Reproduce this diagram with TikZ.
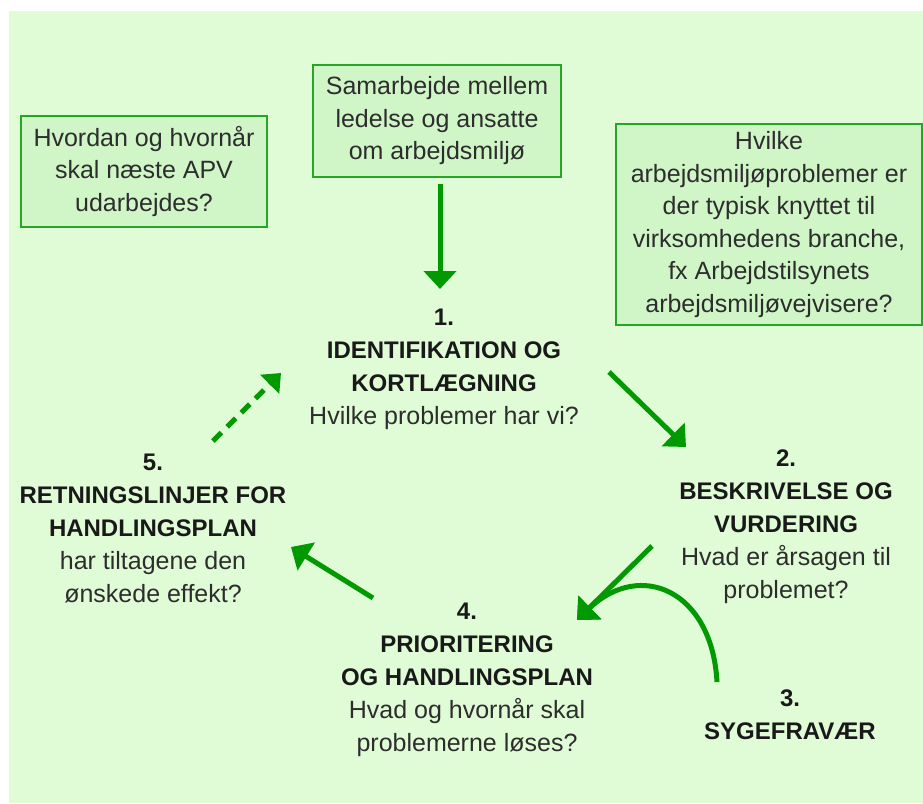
\documentclass[tikz,border=0pt]{standalone}
\usepackage{fontspec}
\setmainfont{Liberation Sans}
\usetikzlibrary{arrows.meta}
\definecolor{bggreen}{RGB}{224,252,214}
\definecolor{boxfill}{RGB}{208,246,200}
\definecolor{boxline}{RGB}{40,165,40}
\definecolor{arrowgreen}{RGB}{0,153,0}
\definecolor{txtgray}{RGB}{45,45,45}
\newcommand{\stagehead}[1]{{\fontsize{24}{33}\selectfont\bfseries\color{black!90}#1}}
\tikzset{
    infobox/.style={draw=boxline, line width=1.5pt, fill=boxfill, align=center, inner sep=0pt, text=txtgray, font=\fontsize{25}{32.5}\selectfont},
    stage/.style={align=center, inner sep=0pt, text=txtgray, font=\fontsize{25}{33}\selectfont},
    flow/.style={draw=arrowgreen, line width=5pt, -{Triangle[width=32pt,length=18pt]}},
    dashflow/.style={flow, dash pattern=on 12pt off 8pt, -{Triangle[width=26pt,length=16pt]}}
}
\begin{document}
\begin{tikzpicture}[x=1pt,y=-1pt]
    \useasboundingbox (0,0) rectangle (923,803);
    \fill[white] (0,0) rectangle (923,803);
    \fill[bggreen] (9,11) rectangle (923,803);
    \node[infobox, minimum width=246pt, minimum height=111pt] (nextapv) at (144,171.5) {Hvordan og hvornår\\skal næste APV\\udarbejdes?};
    \node[infobox, minimum width=248pt, minimum height=112pt] (samarbejde) at (437,121) {Samarbejde mellem\\ledelse og ansatte\\om arbejdsmiljø};
    \node[infobox, minimum width=306pt, minimum height=201pt] (branche) at (769,224.5) {Hvilke\\arbejdsmiljøproblemer er\\der typisk knyttet til\\virksomhedens branche,\\fx Arbejdstilsynets\\arbejdsmiljøvejvisere?};
    \node[stage] (step1) at (444,369) {\stagehead{1.}\\\stagehead{IDENTIFIKATION OG}\\\stagehead{KORTLÆGNING}\\Hvilke problemer har vi?};
    \node[stage] (step2) at (786,527) {\stagehead{2.}\\\stagehead{BESKRIVELSE OG}\\\stagehead{VURDERING}\\Hvad er årsagen til\\problemet?};
    \node[stage] (step3) at (790,715) {\stagehead{3.}\\\stagehead{SYGEFRAVÆR}};
    \node[stage] (step4) at (467,680) {\stagehead{4.}\\\stagehead{PRIORITERING}\\\stagehead{OG HANDLINGSPLAN}\\Hvad og hvornår skal\\problemerne løses?};
    \node[stage] (step5) at (153,528) {\stagehead{5.}\\\stagehead{RETNINGSLINJER FOR}\\\stagehead{HANDLINGSPLAN}\\har tiltagene den\\ønskede effekt?};
    \coordinate (in1) at (440,289);
    \coordinate (out12) at (609,372);
    \coordinate (in2) at (686,447);
    \coordinate (out24) at (652,546);
    \coordinate (in4) at (577,620);
    \coordinate (out3) at (717,682);
    \coordinate (out45) at (373,598);
    \coordinate (in5) at (291,547);
    \coordinate (out51) at (213,441);
    \coordinate (in51) at (281,373);
    \draw[flow] (samarbejde.south -| in1) ++(0,6) -- (in1);
    \draw[flow] (out12) -- (in2);
    \draw[flow] (out24) -- (in4);
    \draw[flow] (out3) .. controls (712,590) and (640,560) .. (in4);
    \draw[flow] (out45) -- (in5);
    \draw[dashflow] (out51) -- (in51);
\end{tikzpicture}
\end{document}
